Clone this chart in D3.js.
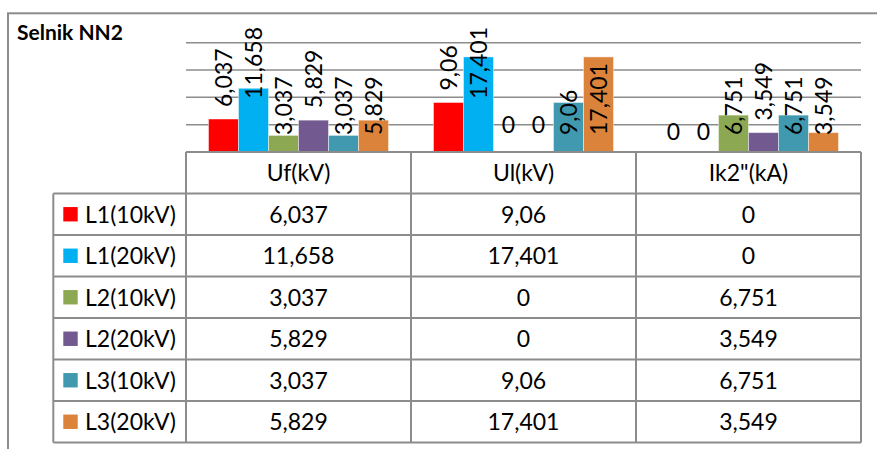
<!DOCTYPE html>
<html>
<head>
<meta charset="utf-8">
<script src="https://cdn.jsdelivr.net/npm/d3@7"></script>
<style>
  html, body { margin: 0; padding: 0; background: #fff; }
  svg { display: block; }
  text { font-family: Lato, "Open Sans", sans-serif; fill: #000; }
</style>
</head>
<body>
<svg id="chart" width="877" height="449"></svg>
<script>
// ---- data ----
const title = "Selnik NN2";
const categories = ["Uf(kV)", "Ul(kV)", "Ik2\"(kA)"];
const seriesNames = ["L1(10kV)", "L1(20kV)", "L2(10kV)", "L2(20kV)", "L3(10kV)", "L3(20kV)"];
const L1_10 = [6.037, 9.06, 0];
const L1_20 = [11.658, 17.401, 0];
const L2_10 = [3.037, 0, 6.751];
const L2_20 = [5.829, 0, 3.549];
const L3_10 = [3.037, 9.06, 6.751];
const L3_20 = [5.829, 17.401, 3.549];
const seriesValues = [L1_10, L1_20, L2_10, L2_20, L3_10, L3_20];
const gridTicks = [0, 5, 10, 15, 20];
const seriesColors = ["#FF0000", "#00B0F0", "#8DA852", "#72598F", "#4199B0", "#DB833B"];

// ---- layout ----
const W = 877, H = 449;
const plotLeft = 186, plotRight = 861, plotTop = 42.7, baseY = 152;
const legendLeft = 53.3;
const tableBottom = 442.5;
const fontSize = 23;
const fmt = v => String(v).replace(".", ",");

const svg = d3.select("#chart");
svg.append("rect").attr("width", W).attr("height", H).attr("fill", "#fff");

// chart area border (cropped at right/bottom)
svg.append("rect")
  .attr("x", 8).attr("y", 13.3).attr("width", 900).attr("height", 500)
  .attr("fill", "none").attr("stroke", "#8c8c8c").attr("stroke-width", 2);

// title
svg.append("text").attr("x", 17).attr("y", 40)
  .attr("font-weight", "bold").attr("font-size", 21).text(title);

// scales
const y = d3.scaleLinear().domain([0, 20]).range([baseY, plotTop]);
const x0 = d3.scaleBand().domain(categories).range([plotLeft, plotRight]).padding(0);
const x1 = d3.scaleBand().domain(seriesNames).range([0, x0.bandwidth()])
  .paddingInner(0).paddingOuter(0.75);

// gridlines
svg.append("g").selectAll("line").data(gridTicks.filter(t => t > 0)).join("line")
  .attr("x1", plotLeft).attr("x2", plotRight)
  .attr("y1", d => y(d)).attr("y2", d => y(d))
  .attr("stroke", "#8c8c8c").attr("stroke-width", 1.5);

// bars
const flat = [];
seriesNames.forEach((s, si) => categories.forEach((c, ci) => {
  flat.push({ s, si, c, ci, v: seriesValues[si][ci] });
}));

svg.append("g").selectAll("rect").data(flat.filter(d => d.v > 0)).join("rect")
  .attr("x", d => x0(d.c) + x1(d.s))
  .attr("width", x1.bandwidth())
  .attr("y", d => y(d.v))
  .attr("height", d => baseY - y(d.v))
  .attr("fill", d => seriesColors[d.si])
  .attr("stroke", "rgba(255,255,255,0.45)").attr("stroke-width", 1);

// data labels
const outsideSeries = new Set([0, 1, 3]);
const labelG = svg.append("g");
const labelTopLimit = 27;
flat.forEach(d => {
  const cx = x0(d.c) + x1(d.s) + x1.bandwidth() / 2;
  let bottom = outsideSeries.has(d.si) ? y(d.v) - 12 : baseY - 17;
  if (d.v === 0) {
    const zb = outsideSeries.has(d.si) && d.si < 2 ? bottom : baseY - 19;
    labelG.append("text")
      .attr("x", cx).attr("y", zb - fontSize * 0.36)
      .attr("dy", "0.36em")
      .attr("text-anchor", "middle").attr("font-size", fontSize)
      .text(fmt(d.v));
  } else {
    const t = labelG.append("text")
      .attr("text-anchor", "start").attr("font-size", fontSize)
      .attr("dy", "0.36em")
      .text(fmt(d.v));
    const len = t.node().getComputedTextLength();
    if (bottom - len < labelTopLimit) bottom = labelTopLimit + len;
    t.attr("transform", `translate(${cx},${bottom}) rotate(-90)`);
  }
});

// data table
const rows = ["__header__", ...seriesNames];
const ry = d3.scaleBand().domain(rows).range([baseY, tableBottom]).padding(0);
const tg = svg.append("g");
const lineColor = "#8c8c8c", lw = 2;
// horizontal lines
tg.append("line").attr("x1", plotLeft).attr("x2", plotRight)
  .attr("y1", baseY).attr("y2", baseY).attr("stroke", lineColor).attr("stroke-width", lw);
seriesNames.forEach(s => {
  tg.append("line").attr("x1", legendLeft).attr("x2", plotRight)
    .attr("y1", ry(s)).attr("y2", ry(s)).attr("stroke", lineColor).attr("stroke-width", lw);
});
tg.append("line").attr("x1", legendLeft).attr("x2", plotRight)
  .attr("y1", tableBottom).attr("y2", tableBottom).attr("stroke", lineColor).attr("stroke-width", lw);
// vertical lines
tg.append("line").attr("x1", legendLeft).attr("x2", legendLeft)
  .attr("y1", ry(seriesNames[0])).attr("y2", tableBottom).attr("stroke", lineColor).attr("stroke-width", lw);
[...categories.map(c => x0(c)), plotRight].forEach(xv => {
  tg.append("line").attr("x1", xv).attr("x2", xv)
    .attr("y1", baseY).attr("y2", tableBottom).attr("stroke", lineColor).attr("stroke-width", lw);
});
// header text
categories.forEach(c => {
  tg.append("text").attr("x", x0(c) + x0.bandwidth() / 2)
    .attr("y", ry("__header__") + ry.bandwidth() / 2).attr("dy", "0.36em")
    .attr("text-anchor", "middle").attr("font-size", fontSize).text(c);
});
// rows
seriesNames.forEach((s, si) => {
  const cy = ry(s) + ry.bandwidth() / 2;
  tg.append("rect").attr("x", 63.3).attr("y", cy - 7.2).attr("width", 14.4).attr("height", 14.4)
    .attr("fill", seriesColors[si]);
  tg.append("text").attr("x", 85).attr("y", cy).attr("dy", "0.36em")
    .attr("font-size", fontSize).text(s);
  categories.forEach((c, ci) => {
    tg.append("text").attr("x", x0(c) + x0.bandwidth() / 2).attr("y", cy).attr("dy", "0.36em")
      .attr("text-anchor", "middle").attr("font-size", fontSize).text(fmt(seriesValues[si][ci]));
  });
});
</script>
</body>
</html>
